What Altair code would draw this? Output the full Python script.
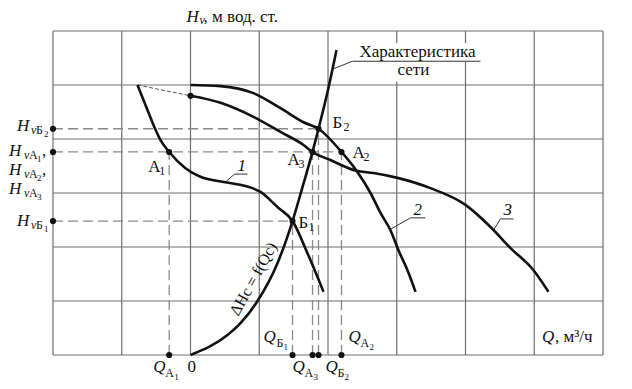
import altair as alt
import pandas as pd

SERIF = "Times New Roman, Liberation Serif, DejaVu Serif, serif"
INK = "#111111"
GRID = "#6f6f6f"
DASH = "#8a8a8a"

# ---- grid (Q and Hv in grid units) ----
grid_q = [-2, -1, 0, 1, 2, 3, 4, 5, 6]
grid_h = [0, 1, 2, 3, 4, 5, 6]

# ---- pump characteristics ----
c1_q = [-0.771, -0.655, -0.538, -0.436, -0.31, -0.073, 0.145, 0.509, 0.80, 1.018, 1.265, 1.484, 1.70, 1.935]
c1_h = [5.0, 4.63, 4.26, 3.98, 3.76, 3.46, 3.30, 3.20, 3.13, 3.02, 2.74, 2.48, 1.89, 1.17]

c2_q = [0.0, 0.436, 0.916, 1.309, 1.644, 1.862, 2.196, 2.415, 2.618, 2.764, 2.909, 3.025, 3.156, 3.273]
c2_h = [5.0, 4.98, 4.85, 4.57, 4.31, 4.19, 3.76, 3.41, 3.0, 2.63, 2.31, 1.94, 1.57, 1.17]

c3_q = [0.0, 0.436, 0.916, 1.309, 1.644, 1.775, 2.036, 2.415, 2.662, 3.011, 3.49, 4.0, 4.364, 4.655, 4.989, 5.207]
c3_h = [4.80, 4.67, 4.41, 4.13, 3.89, 3.76, 3.61, 3.41, 3.37, 3.28, 3.09, 2.78, 2.37, 1.98, 1.57, 1.17]

# ---- network characteristic ----
net_q = [0.0, 0.538, 0.727, 0.975, 1.265, 1.484, 1.629, 1.775, 1.862, 1.993, 2.124]
net_h = [0.0, 0.37, 0.59, 1.0, 1.70, 2.48, 3.11, 3.76, 4.19, 4.87, 5.65]

# ---- operating points ----
pt_names = ["A1", "A3", "A2", "Б1", "Б2"]
pt_q = [-0.31, 1.775, 2.196, 1.484, 1.862]
pt_h = [3.76, 3.76, 3.76, 2.48, 4.19]

# connector between curve starts
conn_q = [-0.771, 0.0]
conn_h = [5.0, 4.80]

# leaders of curve labels
lead1_q = [0.524, 0.64, 0.829]
lead1_h = [3.22, 3.35, 3.35]
lead2_q = [2.909, 3.2, 3.418]
lead2_h = [2.33, 2.54, 2.54]
lead3_q = [4.407, 4.509, 4.698]
lead3_h = [2.31, 2.52, 2.52]
leadn_q = [2.08, 2.356, 4.218]
leadn_h = [5.30, 5.44, 5.44]

xs = alt.Scale(domain=[-2, 6], nice=False, zero=False)
ys = alt.Scale(domain=[0, 6], nice=False, zero=False)


def X(f="x"):
    return alt.X(f"{f}:Q", scale=xs, axis=None)


def Y(f="y"):
    return alt.Y(f"{f}:Q", scale=ys, axis=None)


layers = []

# grid
vgrid = pd.DataFrame({"x": grid_q, "y": [grid_h[0]] * len(grid_q), "y2": [grid_h[-1]] * len(grid_q)})
hgrid = pd.DataFrame({"y": grid_h, "x": [grid_q[0]] * len(grid_h), "x2": [grid_q[-1]] * len(grid_h)})
layers.append(alt.Chart(vgrid).mark_rule(color=GRID, strokeWidth=1.2).encode(x=X(), y=Y(), y2="y2:Q"))
layers.append(alt.Chart(hgrid).mark_rule(color=GRID, strokeWidth=1.2).encode(y=Y(), x=X(), x2="x2:Q"))

# white masks behind the network label
mask = pd.DataFrame({"x": [2.4, 2.967], "x2": [4.247, 3.52], "y": [5.78, 5.43], "y2": [5.43, 5.06]})
layers.append(alt.Chart(mask).mark_rect(color="white").encode(x=X(), x2="x2:Q", y=Y(), y2="y2:Q"))

# dashed projection lines
pts = pd.DataFrame({"name": pt_names, "q": pt_q, "h": pt_h})
hlev = pts.groupby("h", as_index=False)["q"].max()
hlev["x0"] = grid_q[0]
layers.append(alt.Chart(hlev).mark_rule(color=DASH, strokeWidth=1.3, strokeDash=[10, 5]).encode(
    x=X("x0"), x2="q:Q", y=Y("h")))
vl = pts.copy()
vl["y0"] = 0
layers.append(alt.Chart(vl).mark_rule(color=DASH, strokeWidth=1.3, strokeDash=[10, 5]).encode(
    x=X("q"), y=Y("y0"), y2="h:Q"))

# connector
layers.append(alt.Chart(pd.DataFrame({"x": conn_q, "y": conn_h})).mark_line(
    color="#444", strokeWidth=0.9, strokeDash=[4, 2]).encode(x=X(), y=Y()))


def curve(q, h, w=2.6):
    df = pd.DataFrame({"x": q, "y": h, "o": list(range(len(q)))})
    return alt.Chart(df).mark_line(color=INK, strokeWidth=w, interpolate="monotone").encode(
        x=X(), y=Y(), order="o:Q")


layers += [curve(c1_q, c1_h), curve(c2_q, c2_h), curve(c3_q, c3_h), curve(net_q, net_h)]


def leader(q, h):
    df = pd.DataFrame({"x": q, "y": h, "o": list(range(len(q)))})
    return alt.Chart(df).mark_line(color="#333", strokeWidth=1.0).encode(x=X(), y=Y(), order="o:Q")


layers += [leader(lead1_q, lead1_h), leader(lead2_q, lead2_h), leader(lead3_q, lead3_h), leader(leadn_q, leadn_h)]

# dots
dot_x = pt_q + [0.0] + [grid_q[0]] * len(hlev) + pt_q
dot_y = pt_h + [4.80] + list(hlev["h"]) + [0] * len(pt_q)
layers.append(alt.Chart(pd.DataFrame({"x": dot_x, "y": dot_y})).mark_point(
    filled=True, color=INK, size=38, opacity=1).encode(x=X(), y=Y()))


def txt(x, y, s, dx=0, dy=0, size=17, italic=False, align="left", angle=None, baseline="alphabetic"):
    kw = dict(dx=dx, dy=dy, fontSize=size, align=align, baseline=baseline, font=SERIF, color=INK)
    if italic:
        kw["fontStyle"] = "italic"
    if angle is not None:
        kw["angle"] = angle
    return alt.Chart(pd.DataFrame({"x": [x], "y": [y], "t": [s]})).mark_text(**kw).encode(
        x=X(), y=Y(), text="t:N")


def comp(x, y, pieces):
    out = []
    for p in pieces:
        s, dx, dy, size = p[:4]
        it = p[4] if len(p) > 4 else False
        out.append(txt(x, y, s, dx=dx, dy=dy, size=size, italic=it))
    return out


# left labels
L = grid_q[0]
layers += comp(L, 4.19, [("H", -36, 2, 17, True), ("v", -22, 5, 12, True), ("Б", -17, 5, 12), ("2", -9, 8, 9)])
layers += comp(L, 3.76, [("H", -44, 4, 17, True), ("v", -29, 7, 12, True), ("A", -24, 7, 12), ("1", -16, 10, 9), (",", -11, 4, 17)])
layers += comp(L, 3.76, [("H", -44, 23, 17, True), ("v", -29, 26, 12, True), ("A", -24, 26, 12), ("2", -16, 29, 9), (",", -11, 23, 17)])
layers += comp(L, 3.76, [("H", -44, 42, 17, True), ("v", -29, 45, 12, True), ("A", -24, 45, 12), ("3", -16, 48, 9)])
layers += comp(L, 2.48, [("H", -36, 5, 17, True), ("v", -22, 8, 12, True), ("Б", -17, 8, 12), ("1", -9, 11, 9)])

# bottom labels
layers += comp(pt_q[0], 0, [("Q", -16, 17, 17, True), ("A", -4, 22, 12), ("1", 5, 25, 9)])
layers += comp(0, 0, [("0", -3, 17, 17)])
layers += comp(pt_q[3], 0, [("Q", -29, -13, 17, True), ("Б", -16, -8, 12), ("1", -9, -5, 9)])
layers += comp(pt_q[1], 0, [("Q", -20, 17, 17, True), ("A", -8, 22, 12), ("3", 1, 25, 9)])
layers += comp(pt_q[4], 0, [("Q", 7, 17, 17, True), ("Б", 19, 22, 12), ("2", 26, 25, 9)])
layers += comp(pt_q[2], 0, [("Q", 7, -13, 17, True), ("A", 19, -8, 12), ("2", 28, -5, 9)])

# point labels
layers += comp(pt_q[0], pt_h[0], [("A", -21, 20, 17), ("1", -10, 23, 12)])
layers += comp(pt_q[1], pt_h[1], [("A", -25, 13, 17), ("3", -14, 16, 12)])
layers += comp(pt_q[2], pt_h[2], [("A", 11, 6, 17), ("2", 22, 9, 12)])
layers += comp(pt_q[3], pt_h[3], [("Б", 6, 7, 17), ("1", 16, 10, 12)])
layers += comp(pt_q[4], pt_h[4], [("Б", 14, -1, 17), ("2", 25, 2, 12)])

# curve labels
layers.append(txt(lead1_q[1], lead1_h[1], "1", dx=3, dy=-3, size=17, italic=True))
layers.append(txt(lead2_q[1], lead2_h[1], "2", dx=3, dy=-3, size=17, italic=True))
layers.append(txt(lead3_q[1], lead3_h[1], "3", dx=3, dy=-4, size=17, italic=True))
layers.append(txt(leadn_q[1], leadn_h[1], "Характеристика", dx=65, dy=-4, size=17, align="center"))
layers.append(txt(leadn_q[1], leadn_h[1], "сети", dx=61, dy=14, size=17, align="center"))

# network formula along the curve
layers.append(txt(0.916, 1.407, "ΔHс = f(Qс)", size=16, align="center", baseline="middle", angle=299))

# axis titles
layers += comp(0, grid_h[-1], [("H", -4, -9, 17, True), ("v", 9, -7, 12, True), (", м вод. ст.", 13, -9, 17)])
layers += comp(grid_q[-1], 0, [("Q", -61, -13, 17, True), (", м³/ч", -48, -13, 17)])

chart = alt.layer(*layers).properties(
    width=550, height=324,
    padding={"left": 53, "top": 31, "right": 29, "bottom": 34},
    autosize=alt.AutoSizeParams(type="none"),
    background="white",
).configure_view(stroke=None)

chart.save("out.html", embed_options={"renderer": "svg", "actions": False})
